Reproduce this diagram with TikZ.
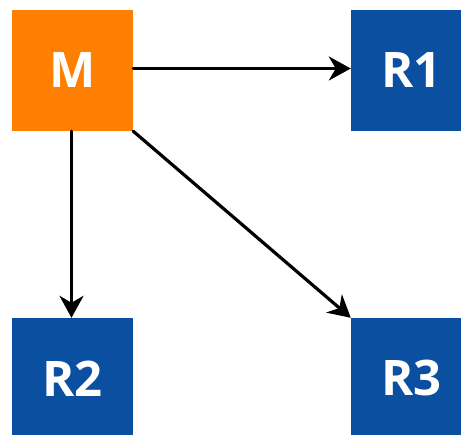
\documentclass[tikz,border=0pt]{standalone}
\usepackage{fontspec}
\setsansfont{Open Sans}
\usetikzlibrary{arrows.meta}

\definecolor{boxorange}{RGB}{255,128,0}
\definecolor{boxblue}{RGB}{11,80,160}

\begin{document}
\begin{tikzpicture}[x=1pt,y=-1pt,line cap=round,line join=round,
  >={Stealth[length=22pt,width=24pt,inset=7pt]},
  every node/.style={font=\sffamily\bfseries\fontsize{49}{49}\selectfont},
  unit/.style={draw=none,minimum size=121pt,inner sep=0pt,text=white},
  link/.style={line width=3.2pt,->}]
  \useasboundingbox (0,0) rectangle (461,435);
  \clip (0,0) rectangle (461,435);
  \node[unit,fill=boxorange] (m)  at (72.5,70.5)  {M};
  \node[unit,fill=boxblue]   (r1) at (411.5,70.5) {R1};
  \node[unit,fill=boxblue]   (r2) at (72.5,378.5) {R2};
  \node[unit,fill=boxblue]   (r3) at (411.5,378.5) {R3};
  % links leave M a little above / left of its centre
  \draw[link] ([yshift=2pt]m.east) -- ([yshift=2pt]r1.west);
  \draw[link] ([xshift=-1pt]m.south) -- ([xshift=-1pt]r2.north);
  \draw[link] (m.south east) -- (r3.north west);
\end{tikzpicture}
\end{document}
